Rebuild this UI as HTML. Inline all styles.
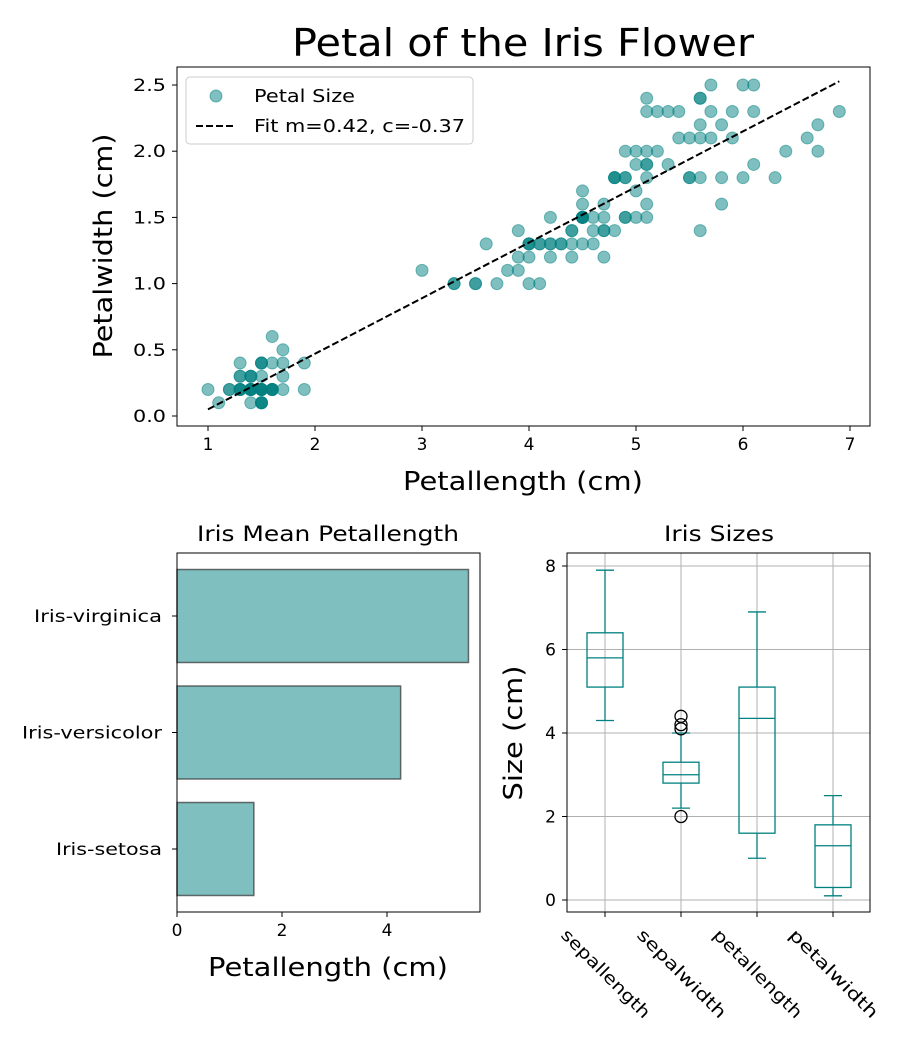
<!DOCTYPE html>
<html><head><meta charset="utf-8"><style>
body{margin:0;background:#fff;font-family:"Liberation Sans","DejaVu Sans",sans-serif}
svg text{font-family:"DejaVu Sans","Liberation Sans",sans-serif}
</style></head><body>
<svg id="c" width="900" height="1050" xmlns="http://www.w3.org/2000/svg">
<rect width="900" height="1050" fill="#fff"/>
</svg>
<script>
const setosaPL=[1.4,1.4,1.3,1.5,1.4,1.7,1.4,1.5,1.4,1.5,1.5,1.6,1.4,1.1,1.2,1.5,1.3,1.4,1.7,1.5,1.7,1.5,1.0,1.7,1.9,1.6,1.6,1.5,1.4,1.6,1.6,1.5,1.5,1.4,1.5,1.2,1.3,1.5,1.3,1.5,1.3,1.3,1.3,1.6,1.9,1.4,1.6,1.4,1.5,1.4];
const setosaPW=[0.2,0.2,0.2,0.2,0.2,0.4,0.3,0.2,0.2,0.1,0.2,0.2,0.1,0.1,0.2,0.4,0.4,0.3,0.3,0.3,0.2,0.4,0.2,0.5,0.2,0.2,0.4,0.2,0.2,0.2,0.2,0.4,0.1,0.2,0.1,0.2,0.2,0.1,0.2,0.2,0.3,0.3,0.2,0.6,0.4,0.3,0.2,0.2,0.2,0.2];
const versiPL=[4.7,4.5,4.9,4.0,4.6,4.5,4.7,3.3,4.6,3.9,3.5,4.2,4.0,4.7,3.6,4.4,4.5,4.1,4.5,3.9,4.8,4.0,4.9,4.7,4.3,4.4,4.8,5.0,4.5,3.5,3.8,3.7,3.9,5.1,4.5,4.5,4.7,4.4,4.1,4.0,4.4,4.6,4.0,3.3,4.2,4.2,4.2,4.3,3.0,4.1];
const versiPW=[1.4,1.5,1.5,1.3,1.5,1.3,1.6,1.0,1.3,1.4,1.0,1.5,1.0,1.4,1.3,1.4,1.5,1.0,1.5,1.1,1.8,1.3,1.5,1.2,1.3,1.4,1.4,1.7,1.5,1.0,1.1,1.0,1.2,1.6,1.5,1.6,1.5,1.3,1.3,1.3,1.2,1.4,1.2,1.0,1.3,1.2,1.3,1.3,1.1,1.3];
const virgPL=[6.0,5.1,5.9,5.6,5.8,6.6,4.5,6.3,5.8,6.1,5.1,5.3,5.5,5.0,5.1,5.3,5.5,6.7,6.9,5.0,5.7,4.9,6.7,4.9,5.7,6.0,4.8,4.9,5.6,5.8,6.1,6.4,5.6,5.1,5.6,6.1,5.6,5.5,4.8,5.4,5.6,5.1,5.1,5.9,5.7,5.2,5.0,5.2,5.4,5.1];
const virgPW=[2.5,1.9,2.1,1.8,2.2,2.1,1.7,1.8,1.8,2.5,2.0,1.9,2.1,2.0,2.4,2.3,1.8,2.2,2.3,1.5,2.3,2.0,2.0,1.8,2.1,1.8,1.8,1.8,2.1,1.6,1.9,2.0,2.2,1.5,1.4,2.3,2.4,1.8,1.8,2.1,2.4,2.3,1.9,2.3,2.5,2.3,1.9,2.0,2.3,1.8];
const fitM=0.42, fitC=-0.37;
const scatterXTicks=[1,2,3,4,5,6,7];
const scatterYTicks=[0.0,0.5,1.0,1.5,2.0,2.5];
const barCats=["Iris-setosa","Iris-versicolor","Iris-virginica"];
const barVals=[1.464,4.26,5.552];
const barTicks=[0,2,4];
const boxCats=["sepallength","sepalwidth","petallength","petalwidth"];
const boxMin=[4.3,2.2,1.0,0.1];
const boxQ1=[5.1,2.8,1.6,0.3];
const boxMed=[5.8,3.0,4.35,1.3];
const boxQ3=[6.4,3.3,5.1,1.8];
const boxMax=[7.9,4.0,6.9,2.5];
const boxFliers=[[],[4.4,4.1,4.2,2.0],[],[]];
const boxYTicks=[0,2,4,6,8];

const svg=document.getElementById('c');
const NS='http://www.w3.org/2000/svg';
function el(tag,attrs,parent){const e=document.createElementNS(NS,tag);for(const k in attrs)e.setAttribute(k,attrs[k]);(parent||svg).appendChild(e);return e;}
function txt(s,attrs,parent){const e=el('text',attrs,parent);e.textContent=s;return e;}

// ---------- scatter ----------
const sx=v=>208+(v-1)*107, sy=v=>416-v*132.4;
const g1=el('g',{});


txt('Petal of the Iris Flower',{x:523,y:56,'font-size':38,'text-anchor':'middle',textLength:462,lengthAdjust:'spacingAndGlyphs'},g1);
const PL=setosaPL.concat(versiPL,virgPL), PW=setosaPW.concat(versiPW,virgPW);
for(let i=0;i<PL.length;i++){
 const c=el('circle',{cx:sx(PL[i]),cy:sy(PW[i]),r:6,fill:'#008080','fill-opacity':0.5,stroke:'#008080','stroke-opacity':0.5},g1);
 
 
}
const x0=Math.min(...PL), x1=Math.max(...PL);
const fl=el('line',{x1:sx(x0),y1:sy(fitM*x0+fitC),x2:sx(x1),y2:sy(fitM*x1+fitC),stroke:'#000','stroke-width':2,'stroke-dasharray':'7,3'},g1);


el('rect',{x:177,y:67,width:693,height:359,fill:'none',stroke:'#000','stroke-width':1},g1);
scatterXTicks.forEach(t=>{el('line',{x1:sx(t),x2:sx(t),y1:426,y2:431,stroke:'#000'},g1);txt(t,{x:sx(t),y:450,'font-size':17,'text-anchor':'middle'},g1);});
scatterYTicks.forEach(t=>{el('line',{x1:172,x2:177,y1:sy(t),y2:sy(t),stroke:'#000'},g1);txt(t.toFixed(1),{x:166,y:sy(t)+6,'font-size':17,'text-anchor':'end',textLength:33,lengthAdjust:'spacingAndGlyphs'},g1);});
txt('Petallength (cm)',{x:523,y:490,'font-size':26,'text-anchor':'middle',textLength:240,lengthAdjust:'spacingAndGlyphs'},g1);
txt('Petalwidth (cm)',{x:112,y:246,'font-size':26,'text-anchor':'middle',textLength:225,lengthAdjust:'spacingAndGlyphs',transform:'rotate(-90 112 246)'},g1);
const lg=el('g',{},g1);


el('rect',{x:186,y:77,width:287,height:67,rx:4,fill:'#fff','fill-opacity':0.8,stroke:'#ccc'},lg);
el('circle',{cx:216,cy:96,r:6,fill:'#008080','fill-opacity':0.5,stroke:'#008080','stroke-opacity':0.5},lg);
txt('Petal Size',{x:254,y:102,'font-size':18,textLength:101,lengthAdjust:'spacingAndGlyphs'},lg);
el('line',{x1:196,x2:236,y1:126,y2:126,stroke:'#000','stroke-width':2,'stroke-dasharray':'7,3'},lg);
txt('Fit m=0.42, c=-0.37',{x:254,y:132,'font-size':18,textLength:211,lengthAdjust:'spacingAndGlyphs'},lg);

// ---------- bar ----------
const bx=v=>177+v*52.5, by=i=>849-i*116.5;
const g2=el('g',{});


txt('Iris Mean Petallength',{x:328,y:541,'font-size':21,'text-anchor':'middle',textLength:262,lengthAdjust:'spacingAndGlyphs'},g2);
const catW={"Iris-setosa":106,"Iris-versicolor":140,"Iris-virginica":128};
barCats.forEach((c,i)=>{
 const r=el('rect',{x:bx(0),y:by(i)-46.5,width:bx(barVals[i])-bx(0),height:93,fill:'#008080','fill-opacity':0.5,stroke:'#333','stroke-opacity':0.7,'stroke-width':1.5},g2);
 
 
 el('line',{x1:172,x2:177,y1:by(i),y2:by(i),stroke:'#000'},g2);
 txt(c,{x:162,y:by(i)+6,'font-size':17,'text-anchor':'end',textLength:catW[c],lengthAdjust:'spacingAndGlyphs'},g2);
});
el('rect',{x:177,y:553,width:303,height:359,fill:'none',stroke:'#000'},g2);
barTicks.forEach(t=>{el('line',{x1:bx(t),x2:bx(t),y1:912,y2:917,stroke:'#000'},g2);txt(t,{x:bx(t),y:936,'font-size':17,'text-anchor':'middle'},g2);});
txt('Petallength (cm)',{x:328,y:976,'font-size':26,'text-anchor':'middle',textLength:240,lengthAdjust:'spacingAndGlyphs'},g2);

// ---------- boxplot ----------
const px=i=>605+i*76, py=v=>900-v*41.75;
const g3=el('g',{});


txt('Iris Sizes',{x:719,y:541,'font-size':21,'text-anchor':'middle',textLength:110,lengthAdjust:'spacingAndGlyphs'},g3);
boxYTicks.forEach(t=>{el('line',{x1:567,x2:870,y1:py(t),y2:py(t),stroke:'#b0b0b0'},g3);el('line',{x1:562,x2:567,y1:py(t),y2:py(t),stroke:'#000'},g3);txt(t,{x:556,y:py(t)+6,'font-size':17,'text-anchor':'end'},g3);});
boxCats.forEach((c,i)=>{
 const x=px(i);
 el('line',{x1:x,x2:x,y1:553,y2:912,stroke:'#b0b0b0'},g3);
 el('line',{x1:x,x2:x,y1:912,y2:917,stroke:'#000'},g3);
 const b=el('g',{},g3);
 
 
 const col='#008080';
 el('rect',{x:x-18,y:py(boxQ3[i]),width:36,height:py(boxQ1[i])-py(boxQ3[i]),fill:'none',stroke:col,'stroke-width':1.3},b);
 el('line',{x1:x-18,x2:x+18,y1:py(boxMed[i]),y2:py(boxMed[i]),stroke:col,'stroke-width':1.3},b);
 el('line',{x1:x,x2:x,y1:py(boxQ3[i]),y2:py(boxMax[i]),stroke:col,'stroke-width':1.3},b);
 el('line',{x1:x,x2:x,y1:py(boxQ1[i]),y2:py(boxMin[i]),stroke:col,'stroke-width':1.3},b);
 el('line',{x1:x-9,x2:x+9,y1:py(boxMax[i]),y2:py(boxMax[i]),stroke:col,'stroke-width':1.3},b);
 el('line',{x1:x-9,x2:x+9,y1:py(boxMin[i]),y2:py(boxMin[i]),stroke:col,'stroke-width':1.3},b);
 boxFliers[i].forEach(f=>el('circle',{cx:x,cy:py(f),r:6,fill:'none',stroke:'#000','stroke-width':1.3},b));
 txt(c,{x:x-45,y:936,'font-size':17,textLength:118,lengthAdjust:'spacingAndGlyphs',transform:`rotate(45 ${x-45} 936)`},g3);
});
el('rect',{x:567,y:553,width:303,height:359,fill:'none',stroke:'#000'},g3);
txt('Size (cm)',{x:522,y:733,'font-size':26,'text-anchor':'middle',textLength:135,lengthAdjust:'spacingAndGlyphs',transform:'rotate(-90 522 733)'},g3);
</script>
</body></html>
